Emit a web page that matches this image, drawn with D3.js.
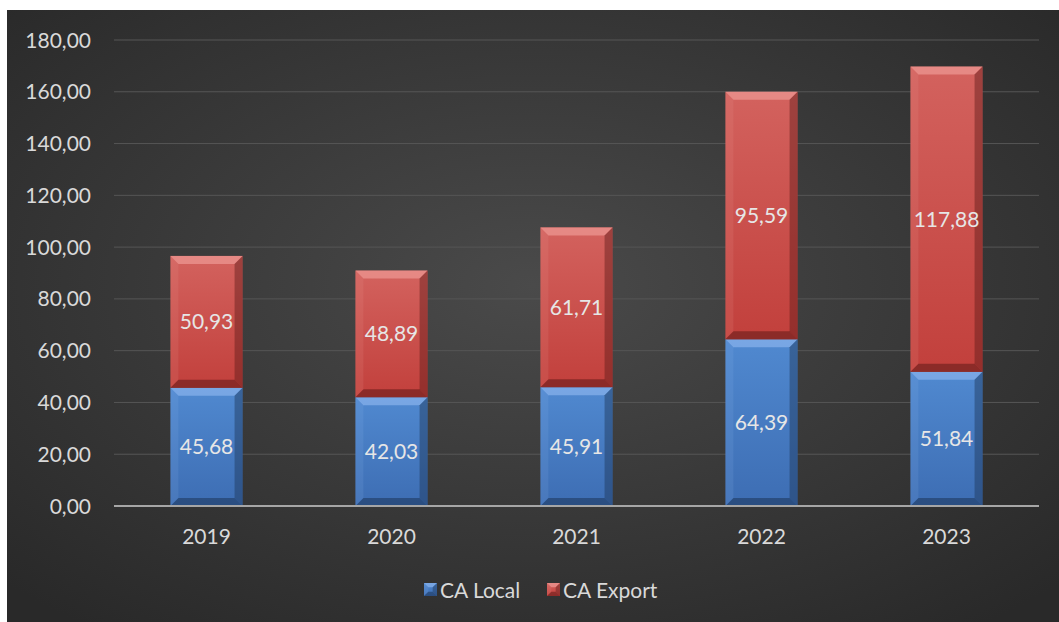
<!DOCTYPE html>
<html>
<head>
<meta charset="utf-8">
<script src="https://cdn.jsdelivr.net/npm/d3@7"></script>
<style>
  html, body { margin: 0; padding: 0; background: #fff; }
  svg { display: block; }
  text { font-family: Lato, "Open Sans", sans-serif; }
</style>
</head>
<body>
<svg id="chart" width="1059" height="622"></svg>
<script>
const years = ['2019', '2020', '2021', '2022', '2023'];
const caLocal = [45.68, 42.03, 45.91, 64.39, 51.84];
const caExport = [50.93, 48.89, 61.71, 95.59, 117.88];
const yTicks = [0, 20, 40, 60, 80, 100, 120, 140, 160, 180];
const seriesNames = ['CA Local', 'CA Export'];

const svg = d3.select('#chart');
const W = 1059, H = 622;
const bg = { x: 7, y: 10 };
const margin = { left: 114, right: 20, top: 40, bottom: 116 };

const defs = svg.append('defs');
const rg = defs.append('radialGradient').attr('id', 'bgGrad')
  .attr('cx', '50%').attr('cy', '45%').attr('r', '70%');
rg.append('stop').attr('offset', '0%').attr('stop-color', '#4a4a4a');
rg.append('stop').attr('offset', '100%').attr('stop-color', '#292929');

const fills = [
  { id: 'gLocal', top: '#5089d0', bottom: '#3d6db3', light: '#8ab4ec', dark: '#1c3557' },
  { id: 'gExport', top: '#d3625e', bottom: '#c2403c', light: '#ee9a96', dark: '#5e1a18' }
];
fills.forEach((f) => {
  const lg = defs.append('linearGradient').attr('id', f.id)
    .attr('x1', 0).attr('y1', 0).attr('x2', 0).attr('y2', 1);
  lg.append('stop').attr('offset', '0%').attr('stop-color', f.top);
  lg.append('stop').attr('offset', '100%').attr('stop-color', f.bottom);
});

svg.append('rect')
  .attr('x', bg.x).attr('y', bg.y)
  .attr('width', W - bg.x).attr('height', H - bg.y)
  .attr('fill', 'url(#bgGrad)');

const x = d3.scaleBand()
  .domain(years)
  .range([margin.left, W - margin.right])
  .paddingInner(0.61)
  .paddingOuter(0.305);

const y = d3.scaleLinear()
  .domain([0, 180])
  .range([H - margin.bottom, margin.top]);

const fmt = v => d3.format('.2f')(v).replace('.', ',');

// grid
svg.append('g')
  .selectAll('line')
  .data(yTicks.filter(t => t > 0))
  .enter()
  .append('line')
  .attr('x1', margin.left).attr('x2', W - margin.right)
  .attr('y1', d => y(d)).attr('y2', d => y(d))
  .attr('stroke', '#565656').attr('stroke-width', 1);

// y labels
svg.append('g')
  .selectAll('text')
  .data(yTicks)
  .enter()
  .append('text')
  .attr('x', 91)
  .attr('y', d => y(d))
  .attr('dy', '0.36em')
  .attr('text-anchor', 'end')
  .attr('fill', '#d9d9d9')
  .attr('font-size', 21)
  .text(d => fmt(d));

// stacked data
const rows = years.map((yr, i) => ({ year: yr, local: caLocal[i], export: caExport[i] }));
const stack = d3.stack().keys(['local', 'export'])(rows);

function bevelBar(g, x0, y0, w, h, f) {
  const b = Math.min(8, h / 3);
  g.append('rect').attr('x', x0).attr('y', y0).attr('width', w).attr('height', h)
    .attr('fill', `url(#${f.id})`);
  // top facet
  g.append('polygon')
    .attr('points', [[x0, y0], [x0 + w, y0], [x0 + w - b, y0 + b], [x0 + b, y0 + b]].join(' '))
    .attr('fill', f.light).attr('opacity', 0.7);
  // left facet
  g.append('polygon')
    .attr('points', [[x0, y0], [x0 + b, y0 + b], [x0 + b, y0 + h - b], [x0, y0 + h]].join(' '))
    .attr('fill', f.light).attr('opacity', 0.15);
  // right facet
  g.append('polygon')
    .attr('points', [[x0 + w, y0], [x0 + w, y0 + h], [x0 + w - b, y0 + h - b], [x0 + w - b, y0 + b]].join(' '))
    .attr('fill', f.dark).attr('opacity', 0.45);
  // bottom facet
  g.append('polygon')
    .attr('points', [[x0, y0 + h], [x0 + b, y0 + h - b], [x0 + w - b, y0 + h - b], [x0 + w, y0 + h]].join(' '))
    .attr('fill', f.dark).attr('opacity', 0.55);
}

stack.forEach((layer, si) => {
  const g = svg.append('g');
  layer.forEach((d) => {
    const x0 = x(d.data.year);
    const yTop = y(d[1]);
    const yBot = y(d[0]);
    bevelBar(g, x0, yTop, x.bandwidth(), yBot - yTop, fills[si]);
    g.append('text')
      .attr('x', x0 + x.bandwidth() / 2)
      .attr('y', (yTop + yBot) / 2)
      .attr('dy', '0.36em')
      .attr('text-anchor', 'middle')
      .attr('fill', '#e6e6e6')
      .attr('font-size', 21)
      .text(fmt(d[1] - d[0]));
  });
});

// baseline
svg.append('line')
  .attr('x1', margin.left).attr('x2', W - margin.right)
  .attr('y1', y(0)).attr('y2', y(0))
  .attr('stroke', '#a6a6a6').attr('stroke-width', 2);

// x labels
svg.append('g')
  .selectAll('text')
  .data(years)
  .enter()
  .append('text')
  .attr('x', d => x(d) + x.bandwidth() / 2)
  .attr('y', y(0) + 38)
  .attr('text-anchor', 'middle')
  .attr('fill', '#d9d9d9')
  .attr('font-size', 21)
  .text(d => d);

// legend
const legendX = [424, 547];
const legend = svg.append('g');
seriesNames.forEach((name, i) => {
  const lg = legend.append('g');
  bevelBar(lg, legendX[i], 583, 13, 13, fills[i]);
  lg.append('text')
    .attr('x', legendX[i] + 16)
    .attr('y', 590)
    .attr('dy', '0.36em')
    .attr('fill', '#d9d9d9')
    .attr('font-size', 21)
    .text(name);
});
</script>
</body>
</html>
